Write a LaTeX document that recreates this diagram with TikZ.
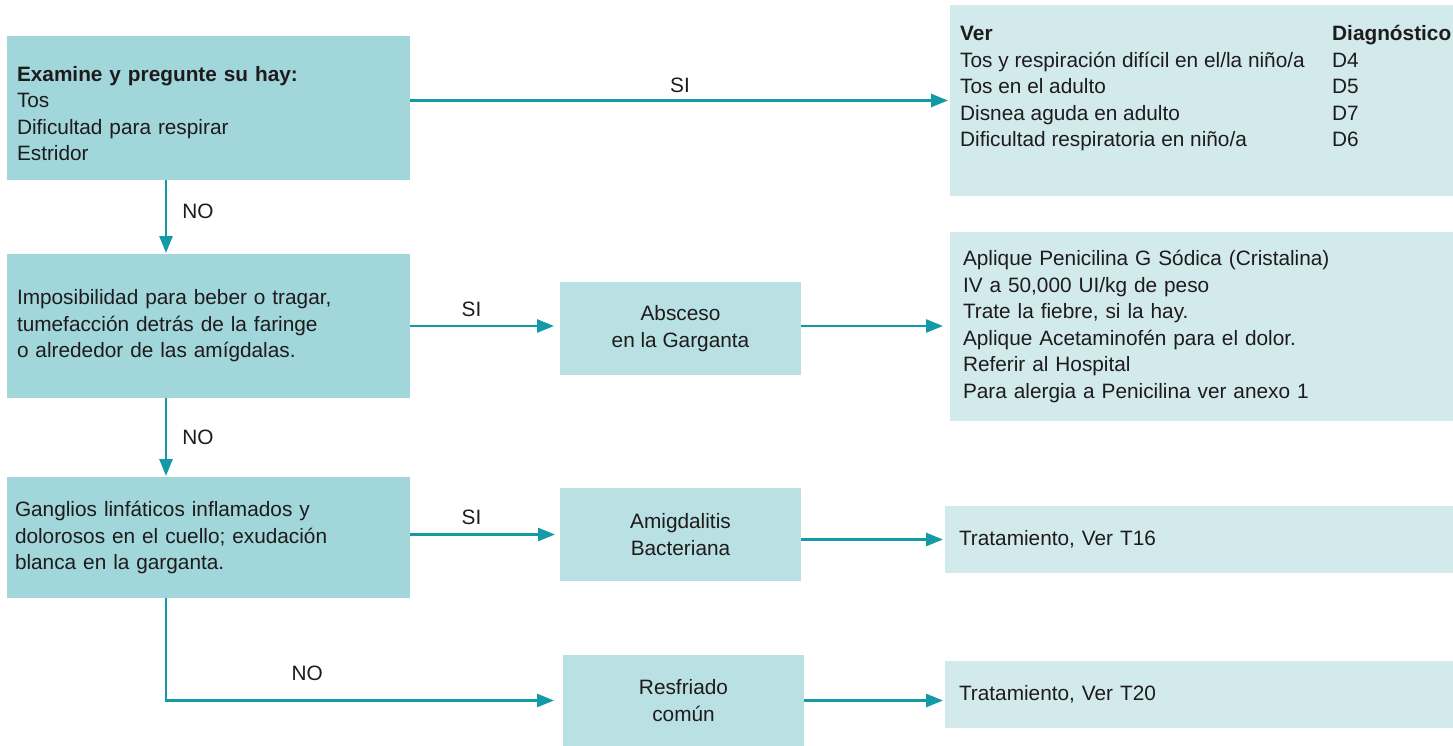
\documentclass[tikz,border=0pt]{standalone}
\usepackage{fontspec}
\setmainfont{Liberation Sans}
\usetikzlibrary{arrows.meta,calc}
\definecolor{boxdark}{HTML}{A1D6DA}
\definecolor{boxmid}{HTML}{B9E0E3}
\definecolor{boxlight}{HTML}{D2EAEC}
\definecolor{arrowc}{HTML}{129BA6}
\definecolor{txtc}{HTML}{1E1B1C}
\begin{document}
\begin{tikzpicture}[x=1pt,y=-1pt,
  every node/.style={font=\fontsize{20.8}{26.5}\selectfont, text=txtc},
  lbox/.style={anchor=north west, align=left, inner xsep=10pt, inner ysep=0pt, outer sep=0pt},
  cbox/.style={anchor=north west, align=center, inner sep=0pt, outer sep=0pt, fill=boxmid},
  arr/.style={draw=arrowc, line width=2.6pt, -{Triangle[length=17pt,width=13pt]}, shorten >=4pt},
  lbl/.style={inner sep=1pt}
]
\useasboundingbox (0,0) rectangle (1453,746);

% left column
\node[lbox, fill=boxdark, text width=383pt, minimum height=144pt] (b1) at (7,36)
  {\rule{0pt}{26pt}\textbf{Examine y pregunte su hay:}\\Tos\\Dificultad para respirar\\Estridor};
\node[lbox, fill=boxdark, text width=383pt, minimum height=144pt] (b2) at (7,254)
  {Imposibilidad para beber o tragar,\\tumefacción detrás de la faringe\\o alrededor de las amígdalas.};
\node[lbox, fill=boxdark, inner xsep=8pt, text width=387pt, minimum height=121pt] (b3) at (7,477)
  {Ganglios linfáticos inflamados y\\dolorosos en el cuello; exudación\\blanca en la garganta.};

% middle column
\node[cbox, minimum width=241pt, minimum height=93pt] (abs) at (560,282) {Absceso\\en la Garganta};
\node[cbox, minimum width=241pt, minimum height=93pt] (ami) at (560,488) {Amigdalitis\\Bacteriana};
\node[cbox, minimum width=241pt, minimum height=91pt] (res) at (563,655) {Resfriado\\común};

% right column
\node[anchor=north west, inner sep=0pt, outer sep=0pt, fill=boxlight, minimum width=503pt, minimum height=191pt] (ver) at (950,5) {};
\node[anchor=north west, inner sep=0pt] (vertxt) at (960,22)
  {\begin{tabular}{@{}p{372pt}@{}l@{}}
   \textbf{Ver} & \textbf{Diagnóstico}\\
   Tos y respiración difícil en el/la niño/a & D4\\
   Tos en el adulto & D5\\
   Disnea aguda en adulto & D7\\
   Dificultad respiratoria en niño/a & D6
   \end{tabular}};
\node[lbox, fill=boxlight, inner xsep=13pt, text width=477pt, minimum height=189pt] (apl) at (950,232)
  {Aplique Penicilina G Sódica (Cristalina)\\IV a 50,000 UI/kg de peso\\Trate la fiebre, si la hay.\\Aplique Acetaminofén para el dolor.\\Referir al Hospital\\Para alergia a Penicilina ver anexo 1};
\node[lbox, fill=boxlight, inner xsep=14pt, text width=480pt, minimum height=67pt] (t16) at (945,506)
  {Tratamiento, Ver T16};
\node[lbox, fill=boxlight, inner xsep=14pt, text width=480pt, minimum height=67pt] (t20) at (945,661)
  {Tratamiento, Ver T20};

% connectors
\draw[arr, shorten >=2pt] (b1.east |- ver.west) -- node[lbl, above=5pt, pos=0.5] {SI} (ver.west);
\draw[arr, shorten >=1pt] ([xshift=159pt]b1.south west) -- node[lbl, right=14pt, pos=0.42] {NO} ([xshift=159pt]b2.north west);
\draw[arr, shorten >=6pt] (b2.east) -- node[lbl, above=7pt, pos=0.41] {SI} (b2.east -| abs.west);
\draw[arr, shorten >=7pt] (abs.east |- b2.east) -- (apl.west |- b2.east);
\draw[arr, shorten >=1pt] ([xshift=159pt]b2.south west) -- node[lbl, right=14pt, pos=0.5] {NO} ([xshift=159pt]b3.north west);
\draw[arr, shorten >=5pt] (b3.east |- ami.west) -- node[lbl, above=8pt, pos=0.41] {SI} (ami.west);
\draw[arr, shorten >=2pt] (ami.east |- t16.west) -- (t16.west);
\draw[arr, shorten >=9pt] ([xshift=159pt]b3.south west) |- node[lbl, above=18pt, pos=0.678] {NO} (res.west);
\draw[arr, shorten >=2pt] (res.east) -- (res.east -| t20.west);
\end{tikzpicture}
\end{document}
